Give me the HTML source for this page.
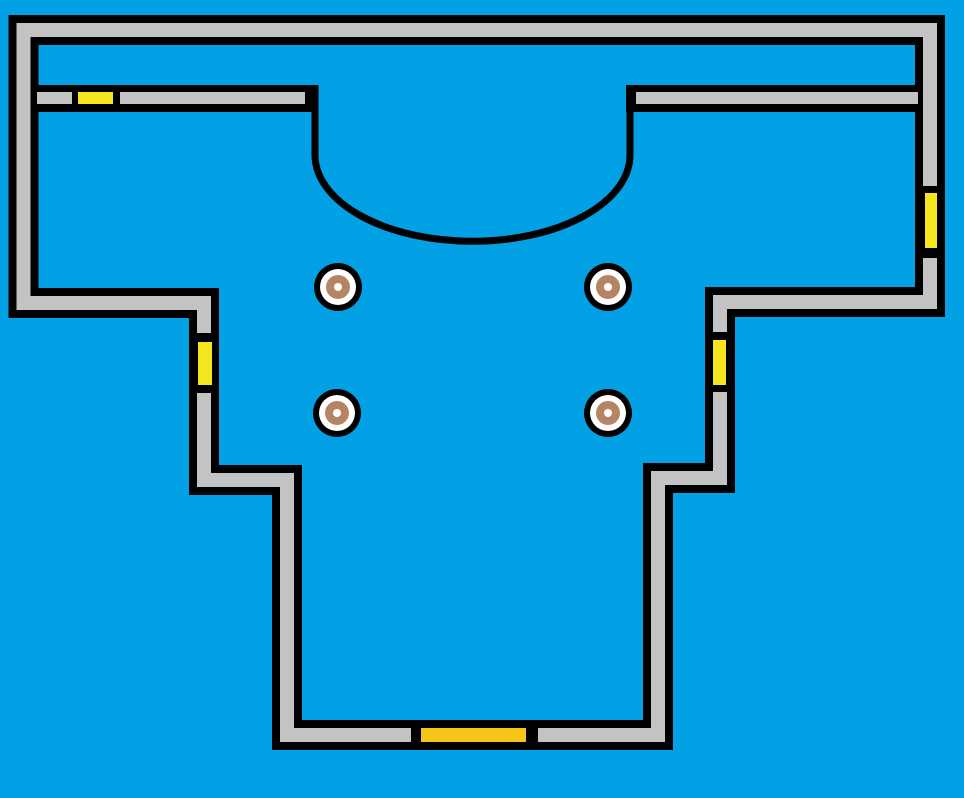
<!DOCTYPE html>
<html><head><meta charset="utf-8"><style>
html,body{margin:0;padding:0;background:#02a1e5;}
svg{display:block;}
</style></head><body>
<svg width="964" height="798" viewBox="0 0 964 798">
<rect x="0" y="0" width="964" height="798" fill="#02a1e5"/>
<g>
<path d="M23.5,30 L930,30 L930,302 L720,302 L720,478 L658,478 L658,735 L287,735 L287,480 L204,480 L204,303 L23.5,303 Z" fill="none" stroke="#000" stroke-width="30" stroke-linejoin="miter"/>
<path d="M23.5,30 L930,30 L930,302 L720,302 L720,478 L658,478 L658,735 L287,735 L287,480 L204,480 L204,303 L23.5,303 Z" fill="none" stroke="#c3c3c3" stroke-width="14" stroke-linejoin="miter"/>
</g>
<g>
<rect x="37" y="85" width="281" height="27" fill="#000"/>
<rect x="37" y="92" width="268" height="12" fill="#c3c3c3"/>
<rect x="626" y="85" width="292" height="27" fill="#000"/>
<rect x="636" y="92" width="282" height="12" fill="#c3c3c3"/>
<path d="M315,85 L315,155 A157,86 0 0 0 630,155 L630,85" fill="none" stroke="#000" stroke-width="7"/>
</g>
<g>
<rect x="72" y="92" width="48" height="12" fill="#000"/>
<rect x="78" y="92" width="35" height="12" fill="#f5e51c"/>
<rect x="923" y="186" width="14" height="72" fill="#000"/>
<rect x="925" y="193" width="12" height="55" fill="#f5e51c"/>
<rect x="197" y="333" width="15" height="60" fill="#000"/>
<rect x="198" y="342" width="14" height="43" fill="#f5e51c"/>
<rect x="713" y="332" width="14" height="60" fill="#000"/>
<rect x="713" y="340" width="13" height="45" fill="#f5e51c"/>
<rect x="411" y="728" width="127" height="14" fill="#000"/>
<rect x="421" y="728" width="105" height="14" fill="#f5c518"/>
</g>
<g>
<g><circle cx="338" cy="287" r="24" fill="#000"/><circle cx="338" cy="287" r="18" fill="#fff"/><circle cx="338" cy="287" r="12" fill="#b58563"/><circle cx="338" cy="287" r="4" fill="#fff"/></g>
<g><circle cx="608" cy="287" r="24" fill="#000"/><circle cx="608" cy="287" r="18" fill="#fff"/><circle cx="608" cy="287" r="12" fill="#b58563"/><circle cx="608" cy="287" r="4" fill="#fff"/></g>
<g><circle cx="337" cy="413" r="24" fill="#000"/><circle cx="337" cy="413" r="18" fill="#fff"/><circle cx="337" cy="413" r="12" fill="#b58563"/><circle cx="337" cy="413" r="4" fill="#fff"/></g>
<g><circle cx="608" cy="413" r="24" fill="#000"/><circle cx="608" cy="413" r="18" fill="#fff"/><circle cx="608" cy="413" r="12" fill="#b58563"/><circle cx="608" cy="413" r="4" fill="#fff"/></g>
</g>
</svg>
</body></html>
